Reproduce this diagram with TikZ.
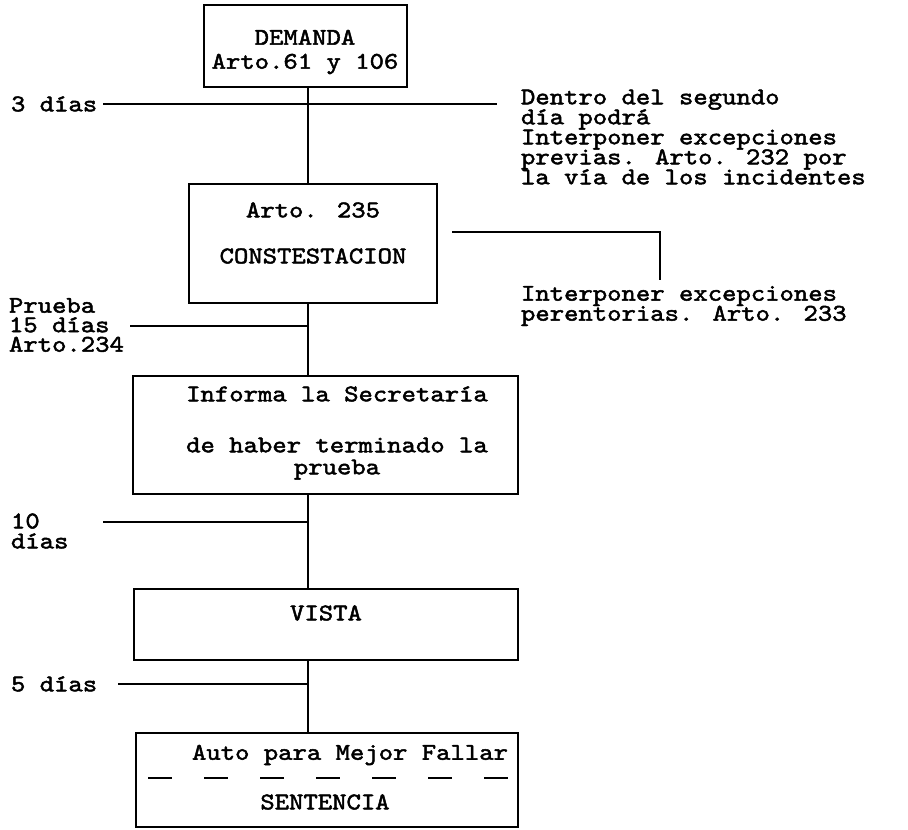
\documentclass[tikz,border=0pt]{standalone}
\usepackage{fontspec}
\usetikzlibrary{calc,positioning}
\newfontfamily\twfam[FakeStretch=1.14,FakeBold=2]{lmmono10-regular.otf}
\newcommand\tightlines{\lineskiplimit=-100pt\relax}
\newcommand\twfont{\twfam\fontsize{12}{9.4}\selectfont\tightlines}

\begin{document}
\begin{tikzpicture}[x=0.5pt, y=-0.5pt, line width=1pt]
  \tikzstyle{pbox} = [draw=black, line width=1pt, rectangle, inner sep=0pt]
  \tikzstyle{ptext} = [font=\twfont, inner sep=0pt, align=center]
  \tikzstyle{ltext} = [ptext, align=left, anchor=west]
  \useasboundingbox (0,0) rectangle (908,829);

  \coordinate (spine) at (308,0);

  % boxes of the procedure
  \node[pbox, minimum width=101.5pt, minimum height=41pt] (demanda) at (305.5,46) {};
  \node[pbox, minimum width=124pt, minimum height=59.5pt] (contesta) at (313,243.5) {};
  \node[pbox, minimum width=192.5pt, minimum height=59pt] (informa) at (325.5,435) {};
  \node[pbox, minimum width=192pt, minimum height=35.5pt] (vista) at (326,624.5) {};
  \node[pbox, minimum width=191pt, minimum height=47pt] (sentencia) at (327,780) {};

  \node[ptext] (tdemanda) at (305,52) {DEMANDA\\[2.6pt]Arto.61 y 106};
  \node[ptext] (tcontesta) at (313,233) {Arto. 235\\[13.6pt]CONSTESTACION};
  \node[ptext] (tinforma) at (337,433) {Informa la Secretaría\\[16.1pt]de haber terminado la\\[1.6pt]prueba};
  \node[ptext] (tvista) at (326,613) {VISTA};
  \node[ptext] (tauto) at (350,755) {Auto para Mejor Fallar};
  \node[ptext] (tsentencia) at (325,802) {SENTENCIA};
  \coordinate (da) at (148,778);
  \coordinate (db) at (508,778);
  \draw[dash pattern=on 12pt off 16pt] (da) -- (db);

  % spine
  \draw (demanda.south -| spine) -- (contesta.north -| spine);
  \draw (contesta.south -| spine) -- (informa.north -| spine);
  \draw (informa.south -| spine) -- (vista.north -| spine);
  \draw (vista.south -| spine) -- (sentencia.north -| spine);

  % terms on the left
  \node[ltext] (l3) at (10,104) {3 días};
  \coordinate (l3a) at (103,104);
  \coordinate (l3b) at (497,104);
  \draw (l3a) -- (l3b);

  \node[ltext] (l15) at (8,325) {Prueba\\[0.35pt]15 días\\[0.35pt]Arto.234};
  \coordinate (l15a) at (130,326);
  \draw (l15a) -- (l15a -| spine);

  \node[ltext] (l10) at (10,531) {10\\[0.6pt]días};
  \coordinate (l10a) at (103,522);
  \draw (l10a) -- (l10a -| spine);

  \node[ltext] (l5) at (10,684) {5 días};
  \coordinate (l5a) at (118,684);
  \draw (l5a) -- (l5a -| spine);

  % notes on the right
  \node[ltext] (rprev) at (520,137) {Dentro del segundo\\[0.6pt]día podrá\\[0.6pt]Interponer excepciones\\[0.6pt]previas. Arto. 232 por\\[0.6pt]la vía de los incidentes};
  \coordinate (pa) at (452,232);
  \coordinate (pb) at (660,280);
  \draw (pa) -| (pb);
  \node[ltext] (rper) at (520,306) {Interponer excepciones\\[0.6pt]perentorias. Arto. 233};
\end{tikzpicture}
\end{document}
